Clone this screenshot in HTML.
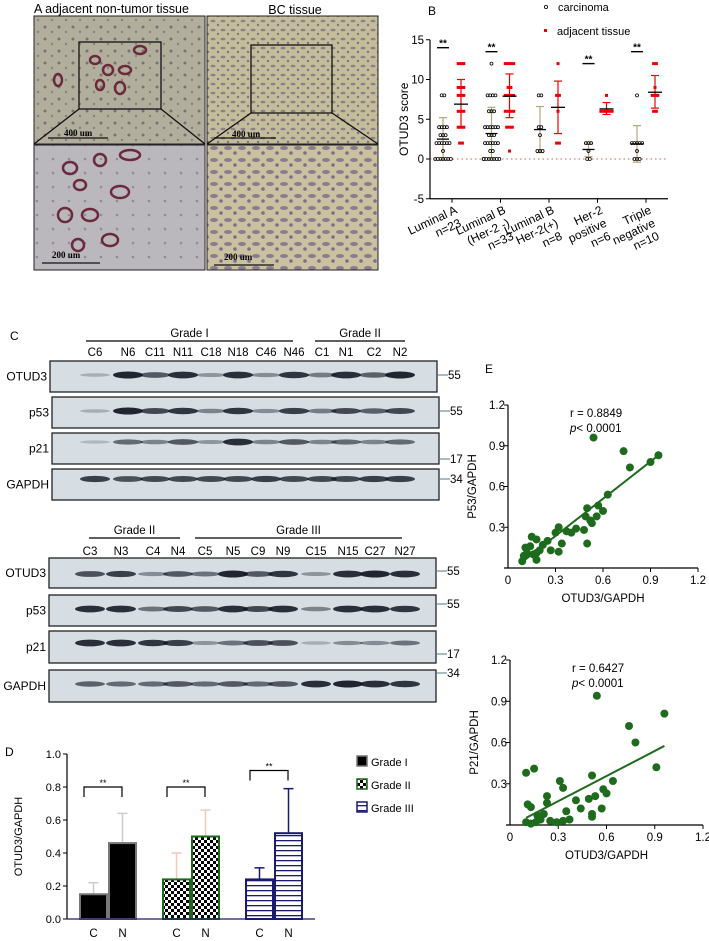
<!DOCTYPE html>
<html><head><meta charset="utf-8"><style>
body{margin:0;width:709px;height:941px;background:#fff;overflow:hidden;font-family:"Liberation Sans",Arial,sans-serif;}
svg{position:absolute;left:0;top:0}
</style></head><body>
<svg width="709" height="941" id="fig" font-family="Liberation Sans, Arial, sans-serif">
<defs>
 <pattern id="chk" width="6" height="6" patternUnits="userSpaceOnUse"><rect width="6" height="6" fill="#fff"/><rect width="3" height="3" fill="#000"/><rect x="3" y="3" width="3" height="3" fill="#000"/></pattern>
 <pattern id="hstr" width="6" height="5" patternUnits="userSpaceOnUse"><rect width="6" height="5" fill="#fff"/><rect y="0" width="6" height="1.3" fill="#1a1a6e"/></pattern>
 <pattern id="tis1" width="14" height="12" patternUnits="userSpaceOnUse"><rect width="14" height="12" fill="#b2ae9c"/><circle cx="3" cy="3" r="1.5" fill="#7d6f78"/><circle cx="10" cy="8" r="1.2" fill="#8a7f84"/></pattern>
 <pattern id="tis2" width="10" height="9" patternUnits="userSpaceOnUse"><rect width="10" height="9" fill="#c4bd9a"/><ellipse cx="3" cy="3" rx="2.5" ry="1.3" fill="#8d7f8c"/><circle cx="8" cy="7" r="1.2" fill="#7f7284"/></pattern>
 <pattern id="tis3" width="16" height="14" patternUnits="userSpaceOnUse"><rect width="16" height="14" fill="#bab7bd"/><circle cx="5" cy="5" r="1.3" fill="#938aa0"/></pattern>
 <pattern id="tis4" width="14" height="12" patternUnits="userSpaceOnUse"><rect width="14" height="12" fill="#c9c19f"/><ellipse cx="4" cy="4" rx="4" ry="2" fill="#8c7c8e"/><circle cx="11" cy="9" r="1.8" fill="#7e6f86"/></pattern>
</defs>

<g>
 <text x="34" y="13" font-size="12.5">A  adjacent non-tumor tissue</text>
 <text x="295" y="14" font-size="12.5" text-anchor="middle">BC tissue</text>
 <rect x="34" y="16" width="171" height="128" fill="url(#tis1)" stroke="#222"/>
 <rect x="207" y="16" width="171" height="128" fill="url(#tis2)" stroke="#222"/>
 <rect x="34" y="145" width="171" height="125" fill="url(#tis3)" stroke="#222"/>
 <rect x="207" y="145" width="171" height="125" fill="url(#tis4)" stroke="#222"/>
 <g fill="none" stroke="#6b2a3c" stroke-width="2.5">
  <ellipse cx="95" cy="60" rx="5" ry="4"/><ellipse cx="108" cy="70" rx="5" ry="5"/><ellipse cx="125" cy="70" rx="6" ry="4"/><ellipse cx="100" cy="85" rx="4" ry="5"/><ellipse cx="120" cy="88" rx="5" ry="6"/><ellipse cx="140" cy="50" rx="6" ry="4"/><ellipse cx="58" cy="80" rx="4" ry="6"/>
  <ellipse cx="70" cy="168" rx="7" ry="6"/><ellipse cx="80" cy="185" rx="6" ry="5"/><ellipse cx="100" cy="160" rx="6" ry="6"/><ellipse cx="120" cy="192" rx="9" ry="6"/><ellipse cx="65" cy="215" rx="7" ry="7"/><ellipse cx="90" cy="215" rx="8" ry="6"/><ellipse cx="110" cy="240" rx="8" ry="6"/><ellipse cx="78" cy="245" rx="6" ry="6"/><ellipse cx="130" cy="155" rx="10" ry="5"/>
 </g>
 <g fill="none" stroke="#111" stroke-width="1.3">
  <rect x="79" y="42" width="82" height="67"/><line x1="79" y1="109" x2="34" y2="144"/><line x1="161" y1="109" x2="205" y2="144"/>
  <rect x="251" y="45" width="81" height="68"/><line x1="251" y1="113" x2="207" y2="144"/><line x1="332" y1="113" x2="378" y2="144"/>
  <line x1="48" y1="138" x2="108" y2="138"/><line x1="214" y1="138" x2="276" y2="138"/><line x1="42" y1="263" x2="100" y2="263"/><line x1="214" y1="265" x2="274" y2="265"/>
 </g>
 <g font-family="Liberation Serif, serif" font-size="9" font-weight="bold">
  <text x="64" y="136">400 um</text>
  <text x="232" y="137">400 um</text>
  <text x="52" y="258">200 um</text>
  <text x="224" y="260">200 um</text>
 </g>
</g>

<g id="pb"></g>
<g id="pc"></g>
<g id="pd"></g>
<g id="pe"></g>
</svg>
<script>
const NS="http://www.w3.org/2000/svg";
function mk(p,t,a,txt){const e=document.createElementNS(NS,t);for(const k in a)e.setAttribute(k,a[k]);if(txt!==undefined)e.textContent=txt;p.appendChild(e);return e;}

const bGroups=["Luminal A\nn=23","Luminal B\n(Her-2 -)\nn=33","Luminal B\nHer-2(+)\nn=8","Her-2\npositive\nn=6","Triple\nnegative\nn=10"];
const bCarcVals=[[0,0,0,0,0,0,0,1,2,2,2,2,2,2,3,3,3,4,4,4,4,8,8],[0,0,0,0,0,0,0,1,1,2,2,2,2,2,2,3,3,3,4,4,4,4,4,4,6,6,6,8,8,8,8,12,0],[1,1,1,3,4,4,8,8],[0,0,1,2,2,2],[0,0,0,1,2,2,2,2,2,8]];
const bAdjVals=[[2,2,4,4,4,6,6,6,8,8,8,9,9,9,12,12,12],[1,4,4,4,6,6,6,6,8,8,8,8,9,9,12,12,12,12],[2,2,6,8,8,12],[6,6,6,6,6,8],[6,6,8,8,8,9,12,12]];
const bCarcMean=[2.5,3.2,3.7,1.2,1.9], bCarcLo=[-0.1,0,0.8,0.3,-0.4], bCarcHi=[5.2,6.5,6.6,2.0,4.2];
const bAdjMean=[6.9,7.9,6.5,6.3,8.4], bAdjLo=[3.9,5.2,3.2,5.6,6.4], bAdjHi=[10.0,10.7,9.8,7.1,10.5];
const bSigY=[14,13.5,null,12,13.5];
const bTicks=[-5,0,5,10,15];
(function(){
 const g=document.getElementById('pb');
 const x0=430,x1=668,yB=v=>159-v*7.95;
 const gx=i=>452+i*48.5;
 mk(g,'text',{x:428,y:15,'font-size':12},'B');
 mk(g,'circle',{cx:546,cy:7,r:1.6,fill:'none',stroke:'#000','stroke-width':0.8});
 mk(g,'text',{x:558,y:11,'font-size':11},'carcinoma');
 mk(g,'rect',{x:544,y:29,width:3,height:3,fill:'#e00'});
 mk(g,'text',{x:557,y:35,'font-size':11},'adjacent tissue');
 mk(g,'line',{x1:x0,y1:yB(15),x2:x0,y2:yB(-5),stroke:'#000','stroke-width':1.2});
 mk(g,'line',{x1:x0,y1:yB(-5),x2:x1,y2:yB(-5),stroke:'#000','stroke-width':1.2});
 mk(g,'line',{x1:x0,y1:yB(0),x2:x1,y2:yB(0),stroke:'#a33','stroke-width':0.8,'stroke-dasharray':'1.5,3'});
 bTicks.forEach(t=>{mk(g,'line',{x1:x0-4,y1:yB(t),x2:x0,y2:yB(t),stroke:'#000'});const e=mk(g,'text',{x:x0-6,y:yB(t)+4,'font-size':11.5,'text-anchor':'end'},t);});
 const yl=mk(g,'text',{x:408,y:yB(5),'font-size':12,'text-anchor':'middle',transform:`rotate(-90 408 ${yB(5)})`},'OTUD3 score');
 
 bGroups.forEach((lab,i)=>{
  const c=gx(i)-9,a=gx(i)+9;
  mk(g,'line',{x1:gx(i),y1:yB(-5),x2:gx(i),y2:yB(-5)+4,stroke:'#000'});
  [[c,bCarcMean,bCarcLo,bCarcHi,'#b5a77a'],[a,bAdjMean,bAdjLo,bAdjHi,'#e00']].forEach(([x,m,lo,hi,col])=>{
   mk(g,'line',{x1:x,y1:yB(lo[i]),x2:x,y2:yB(hi[i]),stroke:col,'stroke-width':1.2});
   mk(g,'line',{x1:x-4,y1:yB(lo[i]),x2:x+4,y2:yB(lo[i]),stroke:col,'stroke-width':1.2});
   mk(g,'line',{x1:x-4,y1:yB(hi[i]),x2:x+4,y2:yB(hi[i]),stroke:col,'stroke-width':1.2});
  });
  const cnt={};bCarcVals[i].forEach(v=>{cnt[v]=(cnt[v]||0)+1;});
  const idx={};
  bCarcVals[i].forEach(v=>{idx[v]=(idx[v]||0);const n=Math.min(cnt[v],7);const k=idx[v]++%7;const dx=(k-(n-1)/2)*2.6;
   const e=mk(g,'circle',{cx:c+dx,cy:yB(v),r:1.5,fill:'none',stroke:'#000','stroke-width':0.8});});
  const cnt2={};bAdjVals[i].forEach(v=>{cnt2[v]=(cnt2[v]||0)+1;});const idx2={};
  bAdjVals[i].forEach(v=>{idx2[v]=(idx2[v]||0);const n=Math.min(cnt2[v],5);const k=idx2[v]++%5;const dx=(k-(n-1)/2)*2.8;
   const e=mk(g,'rect',{x:a+dx-1.5,y:yB(v)-1.5,width:3,height:3,fill:'#e00'});});
  mk(g,'line',{x1:c-6,y1:yB(bCarcMean[i]),x2:c+6,y2:yB(bCarcMean[i]),stroke:'#000','stroke-width':1.3});
  mk(g,'line',{x1:a-7,y1:yB(bAdjMean[i]),x2:a+7,y2:yB(bAdjMean[i]),stroke:'#000','stroke-width':1.3});
  if(bSigY[i]!==null){mk(g,'line',{x1:c-6,y1:yB(bSigY[i]),x2:c+6,y2:yB(bSigY[i]),stroke:'#000','stroke-width':1.4});
   mk(g,'text',{x:c,y:yB(bSigY[i])-1,'font-size':10,'font-weight':'bold','text-anchor':'middle'},'**');}
  const lines=lab.split('\n');
  lines.forEach((l,j)=>{
   const tx=gx(i)+6+j*4, ty=yB(-5)+14+j*13;
   const t=mk(g,'text',{x:tx,y:ty,'font-size':12,'text-anchor':'end',transform:`rotate(-25 ${tx} ${ty})`},l);
   
  });
 });
})();

const lanes1=["C6","N6","C11","N11","C18","N18","C46","N46","C1","N1","C2","N2"];
const lanes2=["C3","N3","C4","N4","C5","N5","C9","N9","C15","N15","C27","N27"];
const lx1=[95,128,155,183,211,238,266,294,322,346,374,400];
const lx2=[90,121,153,178,205,233,258,283,316,348,375,405];
const bandsA={OTUD3:[0.1,0.9,0.6,0.85,0.25,0.85,0.3,0.8,0.4,0.85,0.55,0.9],p53:[0.1,0.9,0.7,0.8,0.35,0.8,0.3,0.75,0.4,0.7,0.55,0.7],p21:[0.05,0.5,0.35,0.6,0.25,0.85,0.35,0.6,0.35,0.5,0.35,0.5],GAPDH:[0.75,0.65,0.7,0.7,0.7,0.7,0.75,0.7,0.7,0.7,0.75,0.75]};
const bandsB={OTUD3:[0.65,0.75,0.3,0.6,0.45,0.9,0.6,0.8,0.25,0.85,0.9,0.85],p53:[0.85,0.85,0.45,0.7,0.6,0.85,0.7,0.85,0.35,0.85,0.85,0.8],p21:[0.85,0.85,0.8,0.75,0.25,0.45,0.65,0.65,0.1,0.3,0.3,0.45],GAPDH:[0.55,0.5,0.5,0.6,0.5,0.6,0.5,0.6,0.85,0.9,0.85,0.8]};
(function(){
 const g=document.getElementById('pc');
 mk(g,'text',{x:10,y:340,'font-size':12},'C');
 function blot(lanes,lx,bands,headers,rows){
  headers.forEach(h=>{mk(g,'line',{x1:h.x1,y1:h.y,x2:h.x2,y2:h.y,stroke:'#000','stroke-width':1.2});
   const t=mk(g,'text',{x:(h.x1+h.x2)/2,y:h.y-4,'font-size':11.5,'text-anchor':'middle'},h.t);});
  lanes.forEach((l,i)=>{const t=mk(g,'text',{x:lx[i],y:rows.ly,'font-size':11.5,'text-anchor':'middle'},l);});
  rows.r.forEach(r=>{
   const bx=mk(g,'rect',{x:r.x,y:r.y,width:387,height:r.h,fill:'#d6dde3',stroke:'#222','stroke-width':1.3});
   
   mk(g,'text',{x:r.x-3,y:r.y+r.h/2+4,'font-size':12,'text-anchor':'end'},r.n);
   bands[r.n].forEach((v,i)=>{const e=mk(g,'ellipse',{cx:lx[i],cy:r.y+r.by,rx:15,ry:1.5+v*2.2,fill:`rgba(15,20,30,${0.15+v*0.85})`});});
   mk(g,'line',{x1:r.x+387,y1:r.y+r.my,x2:r.x+398,y2:r.y+r.my,stroke:'#4a7a8a'});
   mk(g,'text',{x:r.x+398,y:r.y+r.my+4,'font-size':11.5},r.mw);
  });
 }
 blot(lanes1,lx1,bandsA,[{x1:86,x2:293,y:341,t:'Grade I'},{x1:315,x2:405,y:341,t:'Grade II'}],
  {ly:356,r:[{n:'OTUD3',x:50,y:361,h:31,by:14,my:14,mw:'55'},{n:'p53',x:52,y:397,h:31,by:14,my:14,mw:'55'},{n:'p21',x:52,y:433,h:31,by:9,my:26,mw:'17'},{n:'GAPDH',x:52,y:469,h:31,by:10,my:10,mw:'34'}]});
 blot(lanes2,lx2,bandsB,[{x1:89,x2:180,y:538,t:'Grade II'},{x1:195,x2:402,y:538,t:'Grade III'}],
  {ly:555,r:[{n:'OTUD3',x:49,y:558,h:30,by:16,my:13,mw:'55'},{n:'p53',x:49,y:595,h:31,by:14,my:9,mw:'55'},{n:'p21',x:49,y:631,h:32,by:12,my:23,mw:'17'},{n:'GAPDH',x:49,y:670,h:32,by:14,my:3,mw:'34'}]});
})();

const dGrades=["Grade I","Grade II","Grade III"];
const dC=[0.15,0.24,0.24], dN=[0.46,0.50,0.52];
const dCerr=[0.22,0.40,0.31], dNerr=[0.64,0.66,0.79];
const dSigY=[0.8,0.8,0.9];
const dTicks=[0,0.2,0.4,0.6,0.8,1.0];
(function(){
 const g=document.getElementById('pd');
 const x0=67,y0=919,yD=v=>y0-v*165;
 mk(g,'text',{x:5,y:756,'font-size':12},'D');
 const fills=['#000','url(#chk)','url(#hstr)'],strokes=['#777','#1a6a1a','#1a1a6e'],errc=['#ccc','#f0c8b8','#1a1a6e'];
 const cx=[80,163,246];
 dGrades.forEach((gname,i)=>{
  [[cx[i],dC[i],dCerr[i],'C'],[cx[i]+29,dN[i],dNerr[i],'N']].forEach(([x,v,e,lab])=>{
   const ex=x+13.5;
   mk(g,'line',{x1:ex,y1:yD(v),x2:ex,y2:yD(e),stroke:errc[i],'stroke-width':1.5});
   mk(g,'line',{x1:ex-5,y1:yD(e),x2:ex+5,y2:yD(e),stroke:errc[i],'stroke-width':1.5});
   const r=mk(g,'rect',{x:x,y:yD(v),width:27,height:yD(0)-yD(v),fill:fills[i],stroke:strokes[i],'stroke-width':2});
   
   mk(g,'text',{x:ex,y:937,'font-size':11.5,'text-anchor':'middle'},lab);
  });
  const s=yD(dSigY[i]),a=cx[i]+4,b=cx[i]+42;
  mk(g,'path',{d:`M${a} ${s+10}V${s}H${b}V${s+10}`,fill:'none',stroke:'#000','stroke-width':1.2});
  mk(g,'text',{x:(a+b)/2,y:s-1,'font-size':9,'text-anchor':'middle'},'**');
  const ly=765+i*23;
  mk(g,'rect',{x:357,y:ly-9,width:10,height:10,fill:fills[i],stroke:strokes[i],'stroke-width':1.5});
  const lt=mk(g,'text',{x:371,y:ly+1,'font-size':11},gname);
 });
 mk(g,'line',{x1:x0,y1:yD(1),x2:x0,y2:y0,stroke:'#000','stroke-width':1.2});
 mk(g,'line',{x1:x0,y1:y0,x2:315,y2:y0,stroke:'#1a1a6e','stroke-width':1.2});
 dTicks.forEach(t=>{mk(g,'line',{x1:x0-4,y1:yD(t),x2:x0,y2:yD(t),stroke:'#000'});mk(g,'text',{x:x0-6,y:yD(t)+4,'font-size':11,'text-anchor':'end'},t.toFixed(1));});
 const yl=mk(g,'text',{x:22,y:yD(0.5),'font-size':11,'text-anchor':'middle',transform:`rotate(-90 22 ${yD(0.5)})`},'OTUD3/GAPDH');
 
})();

const e1X=[0.54,0.73,0.77,0.90,0.95,0.63,0.57,0.60,0.50,0.56,0.52,0.49,0.48,0.43,0.37,0.32,0.30,0.50,0.34,0.32,0.27,0.25,0.22,0.20,0.18,0.15,0.18,0.14,0.12,0.10,0.11,0.09,0.16,0.18,0.40,0.53];
const e1Y=[0.96,0.86,0.74,0.78,0.83,0.54,0.46,0.42,0.44,0.38,0.35,0.38,0.28,0.29,0.27,0.30,0.26,0.18,0.18,0.12,0.13,0.20,0.17,0.13,0.11,0.23,0.21,0.16,0.11,0.09,0.15,0.05,0.10,0.06,0.26,0.33];
const e2X=[0.54,0.96,0.74,0.78,0.91,0.10,0.15,0.51,0.31,0.33,0.64,0.58,0.60,0.53,0.49,0.41,0.23,0.23,0.11,0.13,0.35,0.51,0.57,0.44,0.51,0.37,0.10,0.16,0.19,0.25,0.29,0.33,0.21,0.17,0.13];
const e2Y=[0.94,0.81,0.72,0.60,0.42,0.38,0.41,0.36,0.32,0.27,0.32,0.26,0.23,0.21,0.19,0.18,0.21,0.16,0.15,0.13,0.10,0.08,0.12,0.12,0.06,0.04,0.02,0.02,0.04,0.03,0.02,0.03,0.08,0.07,0.01];
const eTicks=[0.3,0.6,0.9,1.2];
const eStats=[["r = 0.8849","0.0001"],["r = 0.6427","0.0001"]];
(function(){
 const g=document.getElementById('pe');
 mk(g,'text',{x:485,y:373,'font-size':12},'E');
 function scat(X,Y,ax,idx,yTitle){
  const sx=v=>ax.x0+v*(ax.x1-ax.x0)/1.2, sy=v=>ax.y0-v*(ax.y0-ax.y1)/1.2;
  mk(g,'line',{x1:ax.x0,y1:ax.y1,x2:ax.x0,y2:ax.y0,stroke:'#000','stroke-width':1.2});
  mk(g,'line',{x1:ax.x0-4,y1:ax.y0,x2:ax.x1,y2:ax.y0,stroke:'#000','stroke-width':1.2});
  mk(g,'text',{x:ax.x0,y:ax.y0+16,'font-size':11.5,'text-anchor':'middle'},'0');
  eTicks.forEach(t=>{
   mk(g,'line',{x1:sx(t),y1:ax.y0,x2:sx(t),y2:ax.y0+4,stroke:'#000'});
   mk(g,'text',{x:sx(t),y:ax.y0+16,'font-size':11.5,'text-anchor':'middle'},t.toFixed(1));
   mk(g,'line',{x1:ax.x0-4,y1:sy(t),x2:ax.x0,y2:sy(t),stroke:'#000'});
   mk(g,'text',{x:ax.x0-3,y:sy(t)+4,'font-size':11.5,'text-anchor':'end'},t.toFixed(1));
  });
  X.forEach((v,i)=>{const c=mk(g,'circle',{cx:sx(v),cy:sy(Y[i]),r:4,fill:'#1e6b1e'});});
  const n=X.length,mx=X.reduce((a,b)=>a+b)/n,my=Y.reduce((a,b)=>a+b)/n;
  let sxy=0,sxx=0;X.forEach((v,i)=>{sxy+=(v-mx)*(Y[i]-my);sxx+=(v-mx)*(v-mx);});
  const b=sxy/sxx,a=my-b*mx,xmin=Math.min(...X),xmax=Math.max(...X);
  const fl=mk(g,'line',{x1:sx(xmin),y1:sy(a+b*xmin),x2:sx(xmax),y2:sy(a+b*xmax),stroke:'#1e6b1e','stroke-width':2});
  
  mk(g,'text',{x:ax.x0+62,y:ax.y1+12,'font-size':11.5},eStats[idx][0]);
  const p=mk(g,'text',{x:ax.x0+62,y:ax.y1+27,'font-size':11.5});
  mk(p,'tspan',{'font-style':'italic'},'p');mk(p,'tspan',{},'< '+eStats[idx][1]);
  const xt=mk(g,'text',{x:sx(0.6),y:ax.y0+34,'font-size':11.5,'text-anchor':'middle'},'OTUD3/GAPDH');
  
  const yy=sy(0.6),yx=ax.x0-32;
  const yt=mk(g,'text',{x:yx,y:yy,'font-size':11.5,'text-anchor':'middle',transform:`rotate(-90 ${yx} ${yy})`},yTitle);
  
 }
 scat(e1X,e1Y,{x0:508,x1:698,y0:568,y1:405},0,'P53/GAPDH');
 scat(e2X,e2Y,{x0:510,x1:703,y0:825,y1:660},1,'P21/GAPDH');
})();
</script>
</body></html>
